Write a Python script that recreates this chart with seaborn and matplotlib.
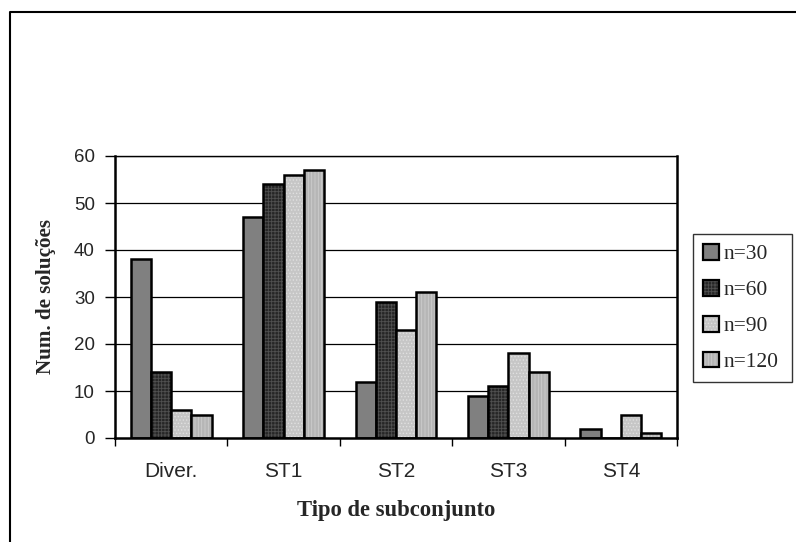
import matplotlib
matplotlib.use("Agg")
import matplotlib.pyplot as plt
import seaborn as sns
import pandas as pd
from matplotlib.lines import Line2D
from matplotlib.patches import Patch

categories = ["Diver.", "ST1", "ST2", "ST3", "ST4"]
series_names = ["n=30", "n=60", "n=90", "n=120"]
n30 = [38, 47, 12, 9, 2]
n60 = [14, 54, 29, 11, 0]
n90 = [6, 56, 23, 18, 5]
n120 = [5, 57, 31, 14, 1]
yticks = [0, 10, 20, 30, 40, 50, 60]

face = ["#808080", "#262626", "#c6c6c6", "#b6b6b6"]
hatches = [None, "+++++", ".....", "|||||"]
hatch_cols = ["#808080", "#505050", "#e0e0e0", "#cdcdcd"]

rows = []
for name, vals in zip(series_names, [n30, n60, n90, n120]):
    for c, v in zip(categories, vals):
        rows.append({"cat": c, "serie": name, "val": v})
df = pd.DataFrame(rows)

sns.set_theme(style="white")
plt.rcParams["hatch.linewidth"] = 0.6
fig = plt.figure(figsize=(7.96, 5.42), dpi=100)
ax = fig.add_axes([115/796, 1-438/542, (677-115)/796, (438-156)/542])

sns.barplot(data=df, x="cat", y="val", hue="serie", order=categories,
            hue_order=series_names, palette=face, width=0.72, gap=0,
            saturation=1, edgecolor="black", linewidth=1.8, ax=ax, legend=False)

for i, cont in enumerate(ax.containers):
    for p in cont.patches:
        p.set_edgecolor("black")
        if hatches[i]:
            p.set_hatch(hatches[i])
            p._hatch_color = matplotlib.colors.to_rgba(hatch_cols[i])

ax.set_ylim(0, 60)
ax.set_xlim(-0.5, 4.5)
ax.set_yticks(yticks)
ax.set_yticklabels([str(t) for t in yticks], fontfamily="Liberation Sans", fontsize=13.5)
ax.set_xticks([0, 1, 2, 3, 4])
ax.set_xticklabels(categories, fontfamily="Liberation Sans", fontsize=15)
ax.tick_params(axis="x", length=0, pad=17)
ax.tick_params(axis="y", length=7.5, width=1, direction="out", color="black", left=True, pad=7)
ax.set_xticks([-0.5, 0.5, 1.5, 2.5, 3.5, 4.5], minor=True)
ax.tick_params(axis="x", which="minor", length=6, width=1, direction="out", color="black", bottom=True)

for t in yticks[1:]:
    ax.axhline(t, color="black", linewidth=0.9, zorder=0)
for s in ax.spines.values():
    s.set_visible(True)
    s.set_color("black")
    s.set_linewidth(1.0)
ax.spines["left"].set_linewidth(1.8)
ax.spines["bottom"].set_linewidth(1.8)
ax.spines["right"].set_linewidth(1.8)

ax.set_xlabel("Tipo de subconjunto", fontfamily="Liberation Serif", fontweight="bold",
              fontsize=16.3, labelpad=14)
ax.set_ylabel("Num. de soluções", fontfamily="Liberation Serif", fontweight="bold",
              fontsize=15.2, labelpad=13)

handles = []
for i in range(4):
    h = Patch(facecolor=face[i], edgecolor="black", linewidth=1.6,
              hatch=hatches[i])
    handles.append(h)
leg = fig.legend(handles, series_names, loc="center left",
                 bbox_to_anchor=(693/796, 1-381/542, 99/796, 146/542), mode="expand",
                 frameon=True, fancybox=False,
                 edgecolor="black", prop={"family": "Liberation Serif", "size": 15.5},
                 handlelength=0.75, handleheight=0.75, handletextpad=0.2,
                 labelspacing=0.72, borderpad=0.45, borderaxespad=0)
leg.get_frame().set_linewidth(1.0)
for h, hc in zip(leg.legend_handles, hatch_cols):
    h._hatch_color = matplotlib.colors.to_rgba(hc)

fig.add_artist(Line2D([10/796, 10/796, 1.0], [0, 1-12/542, 1-12/542],
                      transform=fig.transFigure, color="black", linewidth=1.5))

fig.savefig("out.png", dpi=100)
